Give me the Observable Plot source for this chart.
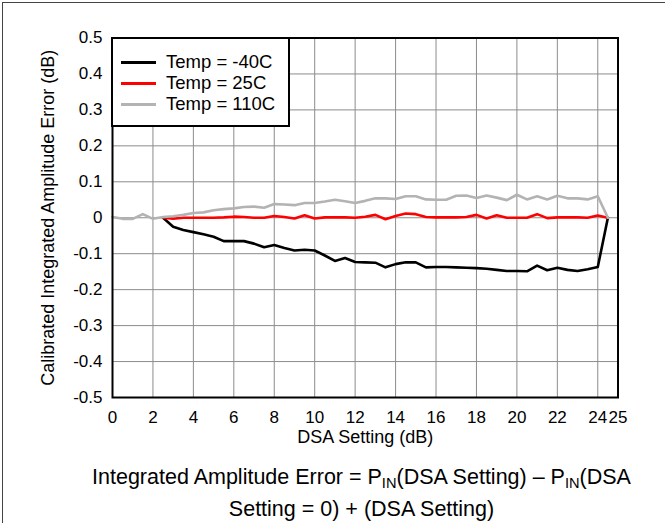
<!DOCTYPE html>
<html>
<head>
<meta charset="utf-8">
<script src="https://cdn.jsdelivr.net/npm/d3@7"></script>
<script src="https://cdn.jsdelivr.net/npm/@observablehq/plot@0.6"></script>
<style>
  html, body { margin: 0; padding: 0; background: #fff; }
  body { width: 665px; height: 523px; position: relative; overflow: hidden; font-family: "Liberation Sans", Arial, sans-serif; }
  #border { position: absolute; left: 2px; top: 2px; width: 700px; height: 600px; border-left: 1.5px solid #444; border-top: 1.5px solid #444; }
  #chart { position: absolute; left: 0; top: 0; }
  #legend { position: absolute; left: 111px; top: 37px; width: 175px; height: 86px; border: 2px solid #000; background: #fff; }
  .item { position: absolute; left: 8px; height: 20px; font-size: 18.5px; line-height: 20px; color: #000; white-space: nowrap; }
  .swatch { position: absolute; left: 0; top: 9px; width: 35px; height: 3px; }
  .lab { position: absolute; left: 45px; top: 0; }
  #caption { position: absolute; left: 60px; width: 603px; top: 461px; text-align: center; font-size: 21.5px; line-height: 32px; color: #000; }
  #caption sub { font-size: 0.68em; vertical-align: -0.25em; line-height: 0; }
</style>
</head>
<body>
<div id="border"></div>
<div id="chart"></div>
<div id="legend"></div>
<div id="caption">Integrated Amplitude Error = P<sub>IN</sub>(DSA Setting) – P<sub>IN</sub>(DSA<br>Setting = 0) + (DSA Setting)</div>
<script>
const dsa = [0, 0.5, 1, 1.5, 2, 2.5, 3, 3.5, 4, 4.5, 5, 5.5, 6, 6.5, 7, 7.5, 8, 8.5, 9, 9.5,
  10, 10.5, 11, 11.5, 12, 12.5, 13, 13.5, 14, 14.5, 15, 15.5, 16, 16.5, 17, 17.5, 18, 18.5, 19, 19.5,
  20, 20.5, 21, 21.5, 22, 22.5, 23, 23.5, 24, 24.5];

const tempM40 = [null, null, null, null, null,
  0, -0.025, -0.034, -0.040, -0.046, -0.053, -0.065, -0.065, -0.065, -0.072,
  -0.082, -0.076, -0.084, -0.091, -0.089, -0.091, -0.105, -0.120, -0.112, -0.123,
  -0.124, -0.125, -0.138, -0.129, -0.124, -0.124, -0.138, -0.137, -0.137, -0.138,
  -0.139, -0.140, -0.142, -0.145, -0.148, -0.148, -0.149, -0.133, -0.146, -0.139,
  -0.145, -0.148, -0.143, -0.137, 0];

const temp25 = [null, null, null, null, null,
  0, -0.003, 0, 0, 0, 0, 0.001, 0.003, 0.002, 0,
  0, 0.005, 0.002, -0.002, 0.007, -0.002, 0.001, 0.001, 0.001, 0,
  0.003, 0.008, -0.004, 0.005, 0.012, 0.010, 0.002, 0.001, 0.001, 0.001,
  0.002, 0.008, -0.002, 0.007, 0, 0, 0, 0.010, -0.001, 0.001,
  0.001, 0.001, 0, 0.006, 0];

const temp110 = [0.002, -0.003, -0.003, 0.010, -0.003,
  0.002, 0.004, 0.008, 0.013, 0.015, 0.021, 0.024, 0.026, 0.030, 0.031,
  0.028, 0.038, 0.037, 0.035, 0.041, 0.041, 0.045, 0.050, 0.046, 0.041,
  0.047, 0.054, 0.054, 0.052, 0.060, 0.060, 0.051, 0.050, 0.050, 0.061,
  0.062, 0.055, 0.062, 0.056, 0.049, 0.064, 0.051, 0.060, 0.051, 0.061,
  0.054, 0.054, 0.051, 0.060, 0];

const series = ["Temp = -40C", "Temp = 25C", "Temp = 110C"];
const seriesColors = ["#000000", "#ff0000", "#b3b3b3"];
const xTicks = [0, 2, 4, 6, 8, 10, 12, 14, 16, 18, 20, 22, 24, 25];
const xGrid = [2, 4, 6, 8, 10, 12, 14, 16, 18, 20, 22, 24];
const yTicks = [-0.5, -0.4, -0.3, -0.2, -0.1, 0, 0.1, 0.2, 0.3, 0.4, 0.5];
const yGrid = [-0.4, -0.3, -0.2, -0.1, 0, 0.1, 0.2, 0.3, 0.4];
const xTitle = "DSA Setting (dB)";
const yTitle = "Calibrated Integrated Amplitude Error (dB)";

const allValues = [tempM40, temp25, temp110];
const rows = [];
series.forEach((s, i) => {
  dsa.forEach((x, j) => rows.push({x, y: allValues[i][j], s}));
});

const chart = Plot.plot({
  width: 665,
  height: 458,
  marginLeft: 112,
  marginRight: 47.5,
  marginTop: 37.5,
  marginBottom: 61,
  style: {fontFamily: "Liberation Sans, Arial, sans-serif", fontSize: "17px", color: "#000", background: "transparent"},
  x: {domain: [0, 25]},
  y: {domain: [-0.5, 0.5]},
  color: {domain: series, range: seriesColors},
  marks: [
    Plot.gridX(xGrid, {stroke: "#8c8c8c", strokeOpacity: 1, strokeWidth: 1}),
    Plot.gridY(yGrid, {stroke: "#8c8c8c", strokeOpacity: 1, strokeWidth: 1}),
    Plot.line(rows, {x: "x", y: "y", z: "s", stroke: "s", strokeWidth: 2.6, curve: "linear"}),
    Plot.frame({stroke: "#000", strokeWidth: 2}),
    Plot.axisX(xTicks, {tickSize: 0, tickPadding: 13, label: null, tickFormat: d => String(d), fill: "#000"}),
    Plot.axisY(yTicks, {tickSize: 0, tickPadding: 10, label: null, tickFormat: d => d === 0 ? "0" : d.toFixed(1), fill: "#000"}),
    Plot.text([xTitle], {frameAnchor: "bottom", textAnchor: "middle", lineAnchor: "middle", dy: 40, fontSize: 18, fill: "#000", text: d => d}),
    Plot.text([yTitle], {frameAnchor: "left", textAnchor: "middle", lineAnchor: "middle", rotate: -90, dx: -64, fontSize: 18, fill: "#000", text: d => d})
  ]
});
document.getElementById("chart").appendChild(chart);

const legend = document.getElementById("legend");
series.forEach((s, i) => {
  const item = document.createElement("div");
  item.className = "item";
  item.style.top = (13 + i * 21) + "px";
  const sw = document.createElement("div");
  sw.className = "swatch";
  sw.style.background = seriesColors[i];
  const lab = document.createElement("span");
  lab.className = "lab";
  lab.textContent = s;
  item.appendChild(sw);
  item.appendChild(lab);
  legend.appendChild(item);
});
</script>
</body>
</html>
